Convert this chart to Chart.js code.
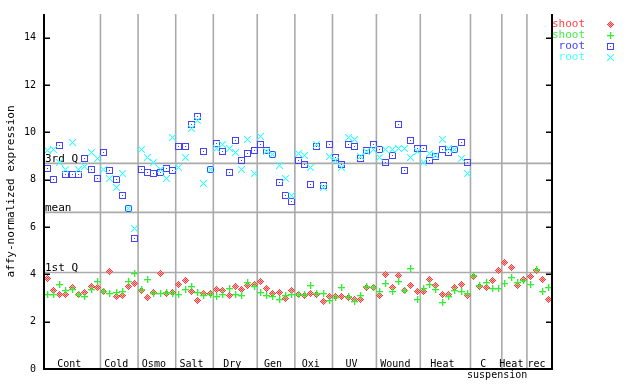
<!DOCTYPE html>
<html>
<head>
<meta charset="utf-8">
<script src="https://cdn.jsdelivr.net/npm/chart.js@4.4.1/dist/chart.umd.min.js"></script>
<style>
html, body { margin: 0; padding: 0; background: #fff; }
#wrap { width: 640px; height: 384px; }
</style>
</head>
<body>
<div id="wrap"><canvas id="exprChart" width="640" height="384"></canvas></div>
<script>
// grupos de experimentos (numero de muestras en cada uno)
const groupNames = ['Cont', 'Cold', 'Osmo', 'Salt', 'Dry', 'Gen', 'Oxi', 'UV', 'Wound', 'Heat', 'C', 'Heat', 'rec'];
const groupSizes = [9, 6, 6, 6, 7, 6, 6, 7, 7, 8, 5, 4, 4];

// valores de expresion, una entrada por muestra
const shootRep1 = [3.83, 3.32, 3.16, 3.16, 3.45, 3.16, 3.24, 3.49, 3.45,
    3.28, 4.12, 3.07, 3.11, 3.49, 3.62,
    3.32, 3.03, 3.24, 4.04, 3.20, 3.24,
    3.58, 3.74, 3.28, 2.90, 3.18, 3.20,
    3.37, 3.32, 3.11, 3.49, 3.37, 3.53, 3.58,
    3.70, 3.41, 3.20, 3.24, 2.99, 3.32,
    3.16, 3.11, 3.20, 3.16, 2.86, 3.07,
    3.07, 3.07, 3.03, 2.95, 2.92, 3.43, 3.45,
    3.11, 4.01, 3.45, 3.95, 3.32, 3.53, 3.28,
    3.28, 3.80, 3.53, 3.16, 3.16, 3.45, 3.58, 3.11,
    3.91, 3.49, 3.45, 3.74, 4.16,
    4.50, 4.29, 3.53, 3.79,
    3.91, 4.16, 3.79, 2.95];
const shootRep2 = [3.16, 3.16, 3.58, 3.32, 3.37, 3.16, 3.07, 3.37, 3.70,
    3.28, 3.20, 3.24, 3.28, 3.70, 4.04,
    3.37, 3.79, 3.20, 3.20, 3.24, 3.20,
    3.16, 3.37, 3.49, 3.24, 3.11, 3.16,
    3.07, 3.16, 3.41, 3.16, 3.11, 3.66, 3.49,
    3.24, 3.11, 3.07, 2.95, 3.11, 3.16,
    3.16, 3.16, 3.53, 3.20, 3.20, 2.90,
    3.03, 3.45, 3.07, 2.86, 3.11, 3.49, 3.45,
    3.28, 3.62, 3.28, 3.70, 3.32, 4.25, 2.95,
    3.41, 3.58, 3.37, 2.82, 3.07, 3.32, 3.28, 3.20,
    3.95, 3.53, 3.66, 3.41, 3.41,
    3.62, 3.87, 3.66, 3.74,
    3.58, 4.21, 3.28, 3.45];
const rootRep1 = [8.49, 7.99, 9.43, 8.21, 8.21, 8.21, 8.91, 8.41, 8.07,
    9.13, 8.37, 7.99, 7.33, 6.77, 5.51,
    8.41, 8.32, 8.25, 8.32, 8.49, 8.37,
    9.42, 9.41, 10.35, 10.65, 9.21, 8.45,
    9.54, 9.21, 8.32, 9.67, 8.79, 9.12, 9.25,
    9.50, 9.25, 9.08, 7.86, 7.32, 7.06,
    8.83, 8.62, 7.78, 9.42, 7.74, 9.50,
    8.95, 8.62, 9.50, 9.42, 8.91, 9.25, 9.50,
    9.29, 8.74, 9.04, 10.34, 8.37, 9.67, 9.33,
    9.33, 8.79, 9.00, 9.29, 9.16, 9.29, 9.58, 8.74];
const rootRep2 = [9.25, 9.29, 8.74, 8.45, 9.58, 8.42, 8.56, 9.16, 8.91,
    8.45, 8.07, 7.65, 8.25, 6.77, 5.93,
    9.29, 8.95, 8.74, 8.45, 8.07, 9.79,
    8.53, 8.95, 10.17, 10.52, 7.82, 8.45,
    9.33, 9.50, 9.33, 9.16, 8.41, 9.71, 8.24,
    9.84, 9.21, 9.08, 8.58, 8.07, 7.32,
    9.12, 9.03, 8.53, 9.50, 7.69, 9.00,
    8.79, 8.53, 9.79, 9.71, 9.00, 9.21, 9.29,
    8.95, 9.29, 9.29, 9.33, 9.33, 8.95, 9.21,
    8.74, 9.12, 9.03, 9.71, 9.33, 9.29, 8.91, 8.25];

const yTicks = [0, 2, 4, 6, 8, 10, 12, 14];
const refNames = ['3rd Q', 'mean', '1st Q'];
const refValues = [8.69, 6.62, 4.08];
const seriesNames = ['shoot', 'shoot', 'root', 'root'];
const seriesColors = ['#ff4444', '#44ee44', '#4444ff', '#44ffff'];

const FONT = 'DejaVu Sans Mono';

// marcadores pixelados
function makeMarker(color, shape) {
    const c = document.createElement('canvas');
    c.width = 9; c.height = 9;
    const g = c.getContext('2d');
    function px(dx, dy, col, a) {
        g.globalAlpha = a; g.fillStyle = col; g.fillRect(4 + dx, 4 + dy, 1, 1);
    }
    for (let dy = -3; dy <= 3; dy++) {
        for (let dx = -3; dx <= 3; dx++) {
            const ax = Math.abs(dx), ay = Math.abs(dy);
            if (shape === 'diamond' && ax + ay <= 3) {
                px(dx, dy, (ax + ay) % 2 ? color : '#ffb0b0', 1);
            } else if (shape === 'plus') {
                if (dx === 0 || dy === 0) px(dx, dy, color, 1);
                else if (dy === 1 || dx === 1) px(dx, dy, color, 0.35);
            } else if (shape === 'square') {
                if (Math.max(ax, ay) === 3 || (ax === 0 && ay === 0)) px(dx, dy, color, 1);
            } else if (shape === 'cross') {
                if (ax === ay) px(dx, dy, color, 1);
                else if (Math.abs(ax - ay) === 1 && ax + ay <= 5) px(dx, dy, color, 0.25);
            }
        }
    }
    return c;
}
const markers = [
    makeMarker('#ff3a3a', 'diamond'),
    makeMarker('#33ee33', 'plus'),
    makeMarker('#4444ff', 'square'),
    makeMarker('#33ffff', 'cross')
];

const toPoints = arr => arr.map((v, i) => ({ x: i, y: v }));

const decor = {
    id: 'decor',
    beforeDatasetsDraw(chart) {
        const { ctx, chartArea: a, scales: { x, y } } = chart;
        ctx.save();
        ctx.strokeStyle = '#aaaaaa';
        ctx.lineWidth = 1.6;
        // separadores de grupos
        let start = 0;
        groupSizes.forEach((n, k) => {
            if (k < groupSizes.length - 1) {
                const px = x.getPixelForValue(start + n - 0.5);
                ctx.beginPath(); ctx.moveTo(px, a.top); ctx.lineTo(px, a.bottom); ctx.stroke();
            }
            start += n;
        });
        // lineas de cuartiles
        ctx.fillStyle = '#000';
        ctx.font = '11px ' + FONT;
        ctx.textAlign = 'left';
        ctx.textBaseline = 'alphabetic';
        refValues.forEach((v, k) => {
            const py = y.getPixelForValue(v);
            ctx.beginPath(); ctx.moveTo(a.left, py); ctx.lineTo(a.right, py); ctx.stroke();
            ctx.fillText(refNames[k], a.left + 1, py - 1);
        });
        // nombres de grupos
        ctx.font = '10px ' + FONT;
        ctx.textAlign = 'center';
        start = 0;
        groupSizes.forEach((n, k) => {
            const cx = x.getPixelForValue(start + (n - 1) / 2) - 3;
            ctx.fillText(groupNames[k], cx, a.bottom - 2.5);
            if (groupNames[k] === 'C') ctx.fillText('suspension', cx + 14, a.bottom + 9);
            start += n;
        });
        ctx.restore();
        ctx.imageSmoothingEnabled = false;
    },
    afterDatasetsDraw(chart) {
        const { ctx, chartArea: a, scales: { y } } = chart;
        ctx.save();
        ctx.strokeStyle = '#000';
        ctx.lineWidth = 2;
        ctx.beginPath();
        ctx.moveTo(a.left, a.top); ctx.lineTo(a.left, a.bottom); ctx.lineTo(a.right, a.bottom); ctx.lineTo(a.right, a.top);
        ctx.stroke();
        ctx.lineWidth = 1.5;
        yTicks.forEach(v => {
            const py = Math.round(y.getPixelForValue(v)) + 0.25;
            ctx.beginPath();
            ctx.moveTo(a.left, py); ctx.lineTo(a.left + 6, py);
            ctx.moveTo(a.right - 6, py); ctx.lineTo(a.right, py);
            ctx.stroke();
        });
        // leyenda
        ctx.font = '11px ' + FONT;
        ctx.textAlign = 'right';
        ctx.textBaseline = 'middle';
        seriesNames.forEach((name, k) => {
            const ly = 24 + k * 11;
            ctx.fillStyle = seriesColors[k];
            ctx.fillText(name, 585, ly);
            ctx.drawImage(markers[k], 606, Math.round(ly) - 4);
        });
        ctx.restore();
    }
};

const ctx = document.getElementById('exprChart').getContext('2d');
const exprChart = new Chart(ctx, {
    type: 'scatter',
    data: {
        datasets: [
            { label: 'shoot', data: toPoints(shootRep1), pointStyle: markers[0], order: 4 },
            { label: 'shoot', data: toPoints(shootRep2), pointStyle: markers[1], order: 3 },
            { label: 'root', data: toPoints(rootRep1), pointStyle: markers[2], order: 2 },
            { label: 'root', data: toPoints(rootRep2), pointStyle: markers[3], order: 1 }
        ]
    },
    options: {
        responsive: false,
        animation: false,
        devicePixelRatio: 1,
        layout: { padding: { left: 0, right: 88, top: 14, bottom: 15 } },
        elements: { point: { radius: 3, hoverRadius: 3 } },
        plugins: { legend: { display: false }, tooltip: { enabled: false } },
        scales: {
            x: { type: 'linear', min: -0.5, max: 80.5, display: false },
            y: {
                min: 0, max: 15,
                afterBuildTicks: s => { s.ticks = yTicks.map(v => ({ value: v })); },
                afterFit: s => { s.width = 44; },
                grid: { display: false, drawTicks: false },
                border: { display: false },
                ticks: { font: { family: FONT, size: 10 }, color: '#000', padding: 8 },
                title: {
                    display: true, text: 'affy-normalized expression', color: '#000',
                    font: { family: FONT, size: 11 }, padding: { top: 5, bottom: 0 }
                }
            }
        }
    },
    plugins: [decor]
});
</script>
</body>
</html>
